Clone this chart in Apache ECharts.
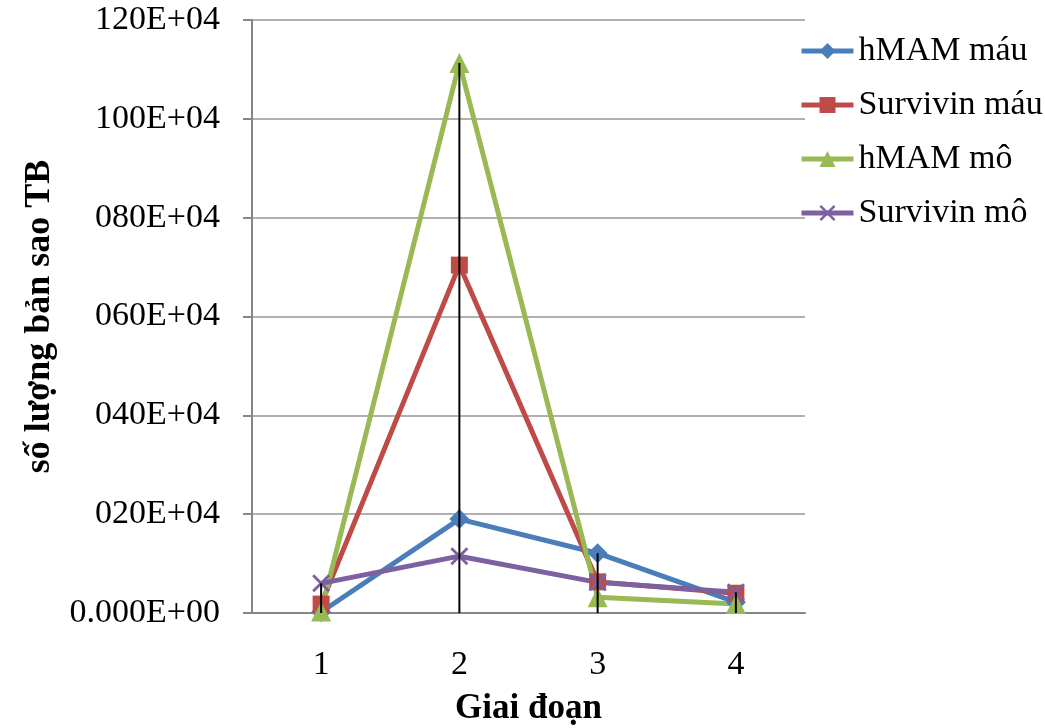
<!DOCTYPE html>
<html>
<head>
<meta charset="utf-8">
<script src="https://cdn.jsdelivr.net/npm/echarts@6/dist/echarts.min.js"></script>
<style>
  html, body { margin: 0; padding: 0; background: #fff; }
  #chart { width: 1045px; height: 728px; }
</style>
</head>
<body>
<div id="chart"></div>
<script>
// Stages (Giai đoạn)
const categories = ['1', '2', '3', '4'];

// Mean copy numbers, in units of 1E+04
const hmamMau = [0.2, 19.0, 12.1, 2.2];
const survivinMau = [1.8, 70.4, 6.3, 4.0];
const hmamMo = [0.3, 111.3, 3.2, 1.8];
const survivinMo = [6.0, 11.5, 6.2, 4.2];

// Y-axis tick labels, one per 20E+04 step
const yTickLabels = ['0.000E+00', '020E+04', '040E+04', '060E+04', '080E+04', '100E+04', '120E+04'];

const FONT = '"Liberation Serif", "Times New Roman", serif';
const allSeries = [hmamMau, survivinMau, hmamMo, survivinMo];
// Drop line from the highest point of each stage down to the axis
const dropTops = categories.map((c, i) => [i, Math.max(...allSeries.map(s => s[i]))]);

const crossPath = 'path://M0,1.1L1.1,0L5,3.9L8.9,0L10,1.1L6.1,5L10,8.9L8.9,10L5,6.1L1.1,10L0,8.9L3.9,5Z';

function lineSeries(name, data, color, symbol, size) {
  return {
    name: name,
    type: 'line',
    data: data,
    symbol: symbol,
    symbolSize: size,
    showSymbol: true,
    lineStyle: { color: color, width: 5 },
    itemStyle: { color: color },
    emphasis: { disabled: true },
    z: 3
  };
}

const chart = echarts.init(document.getElementById('chart'));
chart.setOption({
  animation: false,
  backgroundColor: '#ffffff',
  grid: { left: 252, right: 240, top: 20, bottom: 115, outerBoundsMode: 'none', containLabel: false },
  legend: {
    orient: 'vertical',
    left: 794,
    top: 29,
    itemWidth: 52,
    itemHeight: 20,
    itemGap: 20,
    lineStyle: { width: 5 },
    textStyle: { fontFamily: FONT, fontSize: 34, color: '#000' },
    data: ['hMAM máu', 'Survivin máu', 'hMAM mô', 'Survivin mô']
  },
  xAxis: {
    type: 'category',
    data: categories,
    boundaryGap: true,
    axisLine: { lineStyle: { color: '#868686', width: 2 } },
    axisTick: { show: false },
    axisLabel: { fontFamily: FONT, fontSize: 34, color: '#000', margin: 35 },
    name: 'Giai đoạn',
    nameLocation: 'middle',
    nameGap: 78,
    nameTextStyle: { fontFamily: FONT, fontSize: 35, fontWeight: 'bold', color: '#000' }
  },
  yAxis: {
    type: 'value',
    min: 0,
    max: 120,
    interval: 20,
    axisLine: { show: true, lineStyle: { color: '#868686', width: 2 } },
    axisTick: { show: true, length: 9, lineStyle: { color: '#868686', width: 2 } },
    splitLine: { show: true, lineStyle: { color: '#969696', width: 1.5 } },
    axisLabel: {
      fontFamily: FONT, fontSize: 34, color: '#000', margin: 32,
      formatter: (v) => yTickLabels[Math.round(v / 20)]
    },
    name: 'số lượng bản sao TB',
    nameLocation: 'middle',
    nameGap: 194,
    nameRotate: 90,
    nameTextStyle: { fontFamily: FONT, fontSize: 36, fontWeight: 'bold', color: '#000' }
  },
  series: [
    lineSeries('hMAM máu', hmamMau, '#4A7EBB', 'diamond', 20),
    lineSeries('Survivin máu', survivinMau, '#BE4B48', 'rect', 17),
    lineSeries('hMAM mô', hmamMo, '#98B954', 'triangle', 20),
    lineSeries('Survivin mô', survivinMo, '#7D60A0', crossPath, 18),
    {
      name: 'drop',
      type: 'custom',
      data: dropTops,
      z: 10,
      silent: true,
      renderItem: function (params, api) {
        const top = api.coord([api.value(0), api.value(1)]);
        const bottom = api.coord([api.value(0), 0]);
        return {
          type: 'line',
          shape: { x1: top[0], y1: top[1], x2: bottom[0], y2: bottom[1] },
          style: { stroke: '#000', lineWidth: 2 }
        };
      }
    }
  ]
});
</script>
</body>
</html>
